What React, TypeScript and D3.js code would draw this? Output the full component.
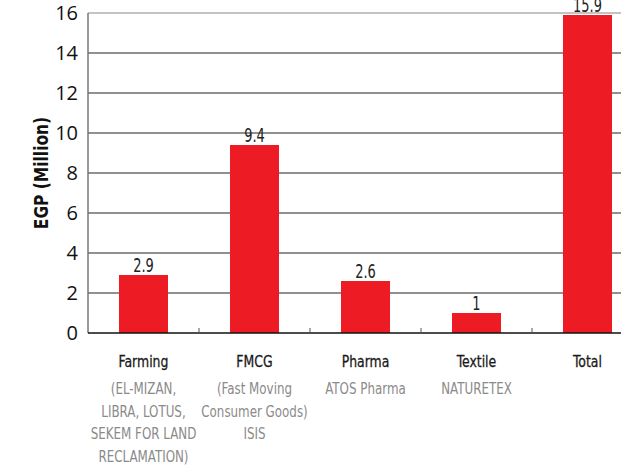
import { useEffect, useRef } from "react";
import * as d3 from "d3";

const categories = ["Farming", "FMCG", "Pharma", "Textile", "Total"];
const values = [2.9, 9.4, 2.6, 1, 15.9];
const subLabels = [
  ["(EL-MIZAN,", "LIBRA, LOTUS,", "SEKEM FOR LAND", "RECLAMATION)"],
  ["(Fast Moving", "Consumer Goods)", "ISIS"],
  ["ATOS Pharma"],
  ["NATURETEX"],
  [],
];
const yTicks = [0, 2, 4, 6, 8, 10, 12, 14, 16];

const NARROW = "'DejaVu Sans Condensed', 'Liberation Sans Narrow', sans-serif";

export default function App() {
  const svgRef = useRef<SVGSVGElement>(null);

  useEffect(() => {
    if (!svgRef.current) return;
    const svg = d3.select(svgRef.current);
    svg.selectAll("*").remove();

    const left = 88;
    const bottom = 333;
    const top = 13;

    const x = d3.scaleBand().domain(categories).range([left, 643]).paddingInner(0).paddingOuter(0);
    const y = d3.scaleLinear().domain([0, 16]).range([bottom, top]);
    const barW = 49;

    // gridlines
    svg
      .append("g")
      .selectAll("line")
      .data(yTicks.filter((t) => t > 0))
      .join("line")
      .attr("x1", left)
      .attr("x2", 621)
      .attr("y1", (d) => y(d))
      .attr("y2", (d) => y(d))
      .attr("stroke", (d) => (d === 16 ? "#888" : "#222"))
      .attr("stroke-width", 1.2);

    // y axis line
    svg
      .append("line")
      .attr("x1", left)
      .attr("x2", left)
      .attr("y1", top)
      .attr("y2", bottom)
      .attr("stroke", "#777")
      .attr("stroke-width", 1.5);

    // tick labels
    svg
      .append("g")
      .selectAll("text")
      .data(yTicks)
      .join("text")
      .attr("x", left - 10)
      .attr("y", (d) => y(d) + 7)
      .attr("text-anchor", "end")
      .attr("font-family", "'Open Sans', 'Noto Sans', sans-serif")
      .attr("font-size", 20)
      .attr("fill", "#111")
      .text((d) => d);

    // bars
    svg
      .append("g")
      .selectAll("rect")
      .data(values)
      .join("rect")
      .attr("x", (_, i) => x(categories[i])! + (x.bandwidth() - barW) / 2)
      .attr("y", (d) => y(d))
      .attr("width", barW)
      .attr("height", (d) => bottom - y(d))
      .attr("fill", "#ED1C24");

    // value labels
    svg
      .append("g")
      .selectAll("text")
      .data(values)
      .join("text")
      .attr(
        "transform",
        (d, i) => `translate(${x(categories[i])! + x.bandwidth() / 2},${y(d) - 3}) scale(0.74,1)`
      )
      .attr("text-anchor", "middle")
      .attr("font-family", NARROW)
      .attr("font-size", 19.5)
      .attr("fill", "#222")
      .text((d) => d);

    // baseline
    svg
      .append("line")
      .attr("x1", left)
      .attr("x2", 621)
      .attr("y1", bottom)
      .attr("y2", bottom)
      .attr("stroke", "#111")
      .attr("stroke-width", 1.5);

    // small ticks at band edges
    svg
      .append("g")
      .selectAll("line")
      .data(categories.slice(1))
      .join("line")
      .attr("x1", (d) => x(d)!)
      .attr("x2", (d) => x(d)!)
      .attr("y1", bottom)
      .attr("y2", bottom - 5)
      .attr("stroke", "#555")
      .attr("stroke-width", 1);

    // category labels
    const labels = svg.append("g");
    categories.forEach((c, i) => {
      const cx = x(c)! + x.bandwidth() / 2;
      labels
        .append("text")
        .attr("transform", `translate(${cx},367) scale(0.84,1)`)
        .attr("text-anchor", "middle")
        .attr("font-family", NARROW)
        .attr("font-size", 16.5)
        .attr("fill", "#1a1a1a")
        .attr("stroke", "#1a1a1a")
        .attr("stroke-width", 0.3)
        .text(c);
      subLabels[i].forEach((s, j) => {
        labels
          .append("text")
          .attr("transform", `translate(${cx},${394 + j * 22.5}) scale(0.8,1)`)
          .attr("text-anchor", "middle")
          .attr("font-family", NARROW)
          .attr("font-size", 16.5)
          .attr("fill", "#8a8a8a")
          .text(s);
      });
    });

    // y axis title
    svg
      .append("text")
      .attr("transform", `translate(48,173) rotate(-90) scale(0.86,1)`)
      .attr("text-anchor", "middle")
      .attr("font-family", NARROW)
      .attr("font-weight", "bold")
      .attr("font-size", 20)
      .attr("fill", "#111")
      .text("EGP (Million)");
  }, []);

  return (
    <svg
      ref={svgRef}
      width={621}
      height={466}
      style={{ position: "absolute", left: 0, top: 0, background: "#fff" }}
    />
  );
}
